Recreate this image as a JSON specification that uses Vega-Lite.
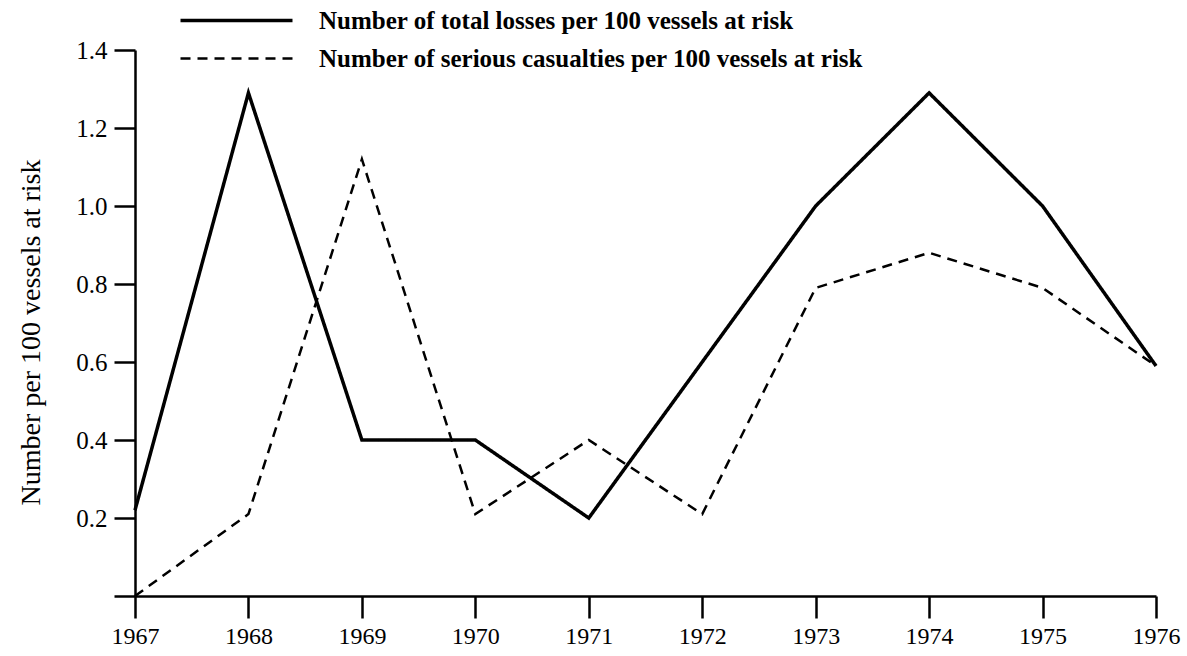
{
  "$schema": "https://vega.github.io/schema/vega-lite/v6.json",
  "width": 1021,
  "height": 546,
  "autosize": {"type": "none"},
  "padding": {"left": 135, "top": 50, "right": 31, "bottom": 60},
  "background": "white",
  "config": {
    "view": {"stroke": null},
    "font": "Liberation Serif",
    "axis": {"grid": false, "domainColor": "black", "tickColor": "black", "labelColor": "black", "titleColor": "black", "domainWidth": 2.5, "tickWidth": 2.5}
  },
  "data": {
    "values": [
      {"year": 1967, "series": "Number of total losses per 100 vessels at risk", "value": 0.22},
      {"year": 1968, "series": "Number of total losses per 100 vessels at risk", "value": 1.29},
      {"year": 1969, "series": "Number of total losses per 100 vessels at risk", "value": 0.4},
      {"year": 1970, "series": "Number of total losses per 100 vessels at risk", "value": 0.4},
      {"year": 1971, "series": "Number of total losses per 100 vessels at risk", "value": 0.2},
      {"year": 1972, "series": "Number of total losses per 100 vessels at risk", "value": 0.6},
      {"year": 1973, "series": "Number of total losses per 100 vessels at risk", "value": 1.0},
      {"year": 1974, "series": "Number of total losses per 100 vessels at risk", "value": 1.29},
      {"year": 1975, "series": "Number of total losses per 100 vessels at risk", "value": 1.0},
      {"year": 1976, "series": "Number of total losses per 100 vessels at risk", "value": 0.59},
      {"year": 1967, "series": "Number of serious casualties per 100 vessels at risk", "value": 0.0},
      {"year": 1968, "series": "Number of serious casualties per 100 vessels at risk", "value": 0.21},
      {"year": 1969, "series": "Number of serious casualties per 100 vessels at risk", "value": 1.12},
      {"year": 1970, "series": "Number of serious casualties per 100 vessels at risk", "value": 0.21},
      {"year": 1971, "series": "Number of serious casualties per 100 vessels at risk", "value": 0.4},
      {"year": 1972, "series": "Number of serious casualties per 100 vessels at risk", "value": 0.21},
      {"year": 1973, "series": "Number of serious casualties per 100 vessels at risk", "value": 0.79},
      {"year": 1974, "series": "Number of serious casualties per 100 vessels at risk", "value": 0.88},
      {"year": 1975, "series": "Number of serious casualties per 100 vessels at risk", "value": 0.79},
      {"year": 1976, "series": "Number of serious casualties per 100 vessels at risk", "value": 0.59}
    ]
  },
  "mark": {"type": "line", "color": "black", "clip": false},
  "encoding": {
    "x": {
      "field": "year", "type": "quantitative",
      "scale": {"domain": [1967, 1976], "nice": false, "zero": false},
      "axis": {"title": null, "values": [1967,1968,1969,1970,1971,1972,1973,1974,1975,1976], "format": "d", "tickSize": 22, "labelFontSize": 24, "labelPadding": 6, "labelFlush": false, "labelOverlap": false}
    },
    "y": {
      "field": "value", "type": "quantitative",
      "scale": {"domain": [0, 1.4], "nice": false},
      "axis": {"title": "Number per 100 vessels at risk", "titleFontSize": 28, "titleFontWeight": "normal", "titlePadding": 30, "titleY": 282, "values": [0,0.2,0.4,0.6,0.8,1.0,1.2,1.4], "format": ".1f", "labelExpr": "datum.value == 0 ? '' : datum.label", "tickSize": 21, "labelFontSize": 25, "labelPadding": 7, "labelFlush": false}
    },
    "strokeWidth": {
      "field": "series", "type": "nominal",
      "scale": {"domain": ["Number of total losses per 100 vessels at risk", "Number of serious casualties per 100 vessels at risk"], "range": [3.5, 2.5]},
      "legend": null
    },
    "strokeDash": {
      "field": "series", "type": "nominal",
      "scale": {"domain": ["Number of total losses per 100 vessels at risk", "Number of serious casualties per 100 vessels at risk"], "range": [[1, 0], [10, 7]]},
      "legend": {"title": null, "orient": "none", "legendX": 89, "legendY": -42, "symbolType": "M-7,0H7", "symbolSize": 256, "symbolStrokeColor": "black", "symbolStrokeWidth": 3, "labelOffset": 70, "labelFont": "Liberation Serif", "labelFontWeight": "bold", "labelFontSize": 25, "labelColor": "black", "rowPadding": 12, "labelLimit": 900}
    }
  }
}
